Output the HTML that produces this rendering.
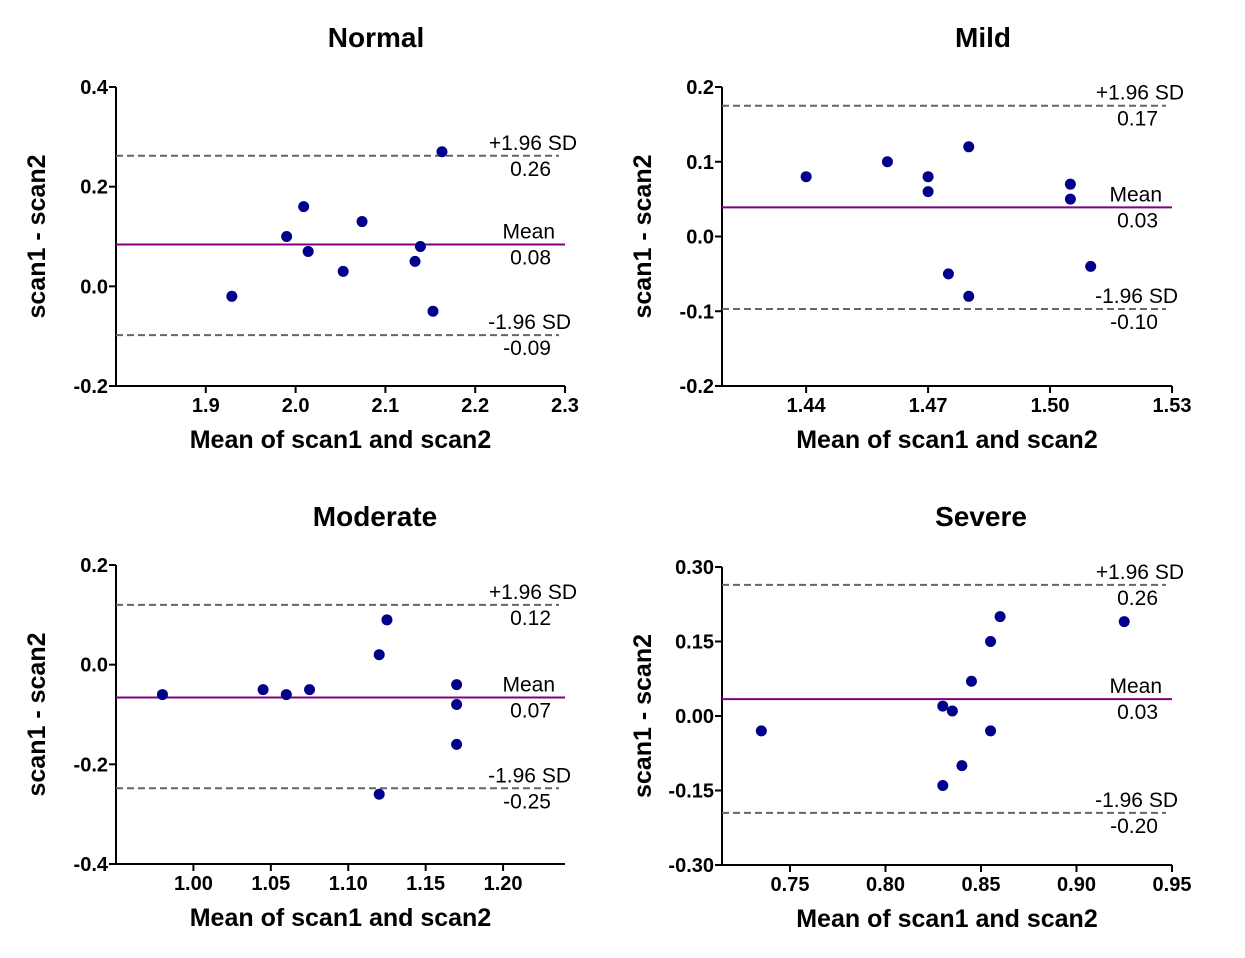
<!DOCTYPE html>
<html><head><meta charset="utf-8">
<style>
html,body{margin:0;padding:0;background:#fff;}
svg{display:block;font-family:"Liberation Sans",Arial,sans-serif;}
</style></head>
<body>
<svg id="c" width="1245" height="958" viewBox="0 0 1245 958" xmlns="http://www.w3.org/2000/svg"></svg>
<script>
const titles = ["Normal","Mild","Moderate","Severe"];
const normalX = [1.929,1.99,2.009,2.014,2.053,2.074,2.133,2.139,2.153,2.163];
const normalY = [-0.02,0.10,0.16,0.07,0.03,0.13,0.05,0.08,-0.05,0.27];
const mildX = [1.44,1.46,1.47,1.47,1.475,1.48,1.48,1.505,1.505,1.51];
const mildY = [0.08,0.10,0.08,0.06,-0.05,0.12,-0.08,0.07,0.05,-0.04];
const moderateX = [0.98,1.045,1.06,1.075,1.12,1.12,1.125,1.17,1.17,1.17];
const moderateY = [-0.06,-0.05,-0.06,-0.05,0.02,-0.26,0.09,-0.04,-0.08,-0.16];
const severeX = [0.735,0.83,0.835,0.83,0.84,0.845,0.855,0.855,0.86,0.925];
const severeY = [-0.03,0.02,0.01,-0.14,-0.10,0.07,0.15,-0.03,0.20,0.19];
const meanVals = [0.084,0.039,-0.066,0.034];
const upperVals = [0.262,0.175,0.12,0.264];
const lowerVals = [-0.098,-0.097,-0.248,-0.195];
const meanLabels = ["0.08","0.03","0.07","0.03"];
const upperLabels = ["0.26","0.17","0.12","0.26"];
const lowerLabels = ["-0.09","-0.10","-0.25","-0.20"];
const xTicks = [[1.9,2.0,2.1,2.2,2.3],[1.44,1.47,1.50,1.53],[1.00,1.05,1.10,1.15,1.20],[0.75,0.80,0.85,0.90,0.95]];
const xTickLabels = [["1.9","2.0","2.1","2.2","2.3"],["1.44","1.47","1.50","1.53"],["1.00","1.05","1.10","1.15","1.20"],["0.75","0.80","0.85","0.90","0.95"]];
const yTicks = [[-0.2,0,0.2,0.4],[-0.2,-0.1,0,0.1,0.2],[-0.4,-0.2,0,0.2],[-0.3,-0.15,0,0.15,0.3]];
const yTickLabels = [["-0.2","0.0","0.2","0.4"],["-0.2","-0.1","0.0","0.1","0.2"],["-0.4","-0.2","0.0","0.2"],["-0.30","-0.15","0.00","0.15","0.30"]];
const xDomains = [[1.8,2.3],[1.4193,1.53],[0.950,1.24],[0.7144,0.95]];
const yDomains = [[-0.2,0.4],[-0.2,0.2],[-0.4,0.2],[-0.3,0.3]];
const xsAll=[normalX,mildX,moderateX,severeX], ysAll=[normalY,mildY,moderateY,severeY];
const boxes=[{l:116,r:565,t:87,b:386,tx:376,ty:47},{l:722,r:1172,t:87,b:386,tx:983,ty:47},
             {l:116,r:565,t:565,b:864,tx:375,ty:526},{l:722,r:1172,t:567,b:865,tx:981,ty:526}];
const svg=document.getElementById('c');
const NS="http://www.w3.org/2000/svg";
function mk(tag,attrs,parent,text){const e=document.createElementNS(NS,tag);for(const k in attrs)e.setAttribute(k,attrs[k]);if(text!==undefined)e.textContent=text;parent.appendChild(e);return e;}
for(let p=0;p<4;p++){
  const B=boxes[p],xd=xDomains[p],yd=yDomains[p];
  const sx=v=>B.l+(v-xd[0])/(xd[1]-xd[0])*(B.r-B.l);
  const sy=v=>B.b-(v-yd[0])/(yd[1]-yd[0])*(B.b-B.t);
  const g=mk('g',{},svg);
  
  
  const t=mk('text',{x:B.tx,y:B.ty,'text-anchor':'middle','font-size':28,'font-weight':'bold',fill:'#000'},g,titles[p]);
  
  
  const ax=mk('path',{d:`M${B.l},${B.t}V${B.b}H${B.r}`,stroke:'#000','stroke-width':2,fill:'none'},g);
  
  
  yTicks[p].forEach((v,i)=>{const y=sy(v);
    mk('line',{x1:B.l-7,x2:B.l,y1:y,y2:y,stroke:'#000','stroke-width':2},g);
    const tl=mk('text',{x:B.l-8,y:y+7,'text-anchor':'end','font-size':20,'font-weight':'bold'},g,yTickLabels[p][i]);
    
    
  });
  xTicks[p].forEach((v,i)=>{const x=sx(v);
    mk('line',{x1:x,x2:x,y1:B.b,y2:B.b+7,stroke:'#000','stroke-width':2},g);
    const tl=mk('text',{x:x,y:B.b+26,'text-anchor':'middle','font-size':20,'font-weight':'bold'},g,xTickLabels[p][i]);
    
    
  });
  const xt=mk('text',{x:(B.l+B.r)/2,y:B.b+62,'text-anchor':'middle','font-size':25,'font-weight':'bold'},g,'Mean of scan1 and scan2');
  
  
  const cy=(B.t+B.b)/2;
  const yt=mk('text',{x:0,y:0,transform:`translate(${B.l-71},${cy}) rotate(-90)`,'text-anchor':'middle','font-size':25,'font-weight':'bold'},g,'scan1 - scan2');
  
  
  const yu=sy(upperVals[p]),ym=sy(meanVals[p]),yl=sy(lowerVals[p]);
  const lu=mk('line',{x1:B.l,x2:B.r-6,y1:yu,y2:yu,stroke:'#666','stroke-width':2,'stroke-dasharray':'7,4'},g);
  
  
  const lm=mk('line',{x1:B.l,x2:B.r,y1:ym,y2:ym,stroke:'#800080','stroke-width':2},g);
  
  
  const ll=mk('line',{x1:B.l,x2:B.r-6,y1:yl,y2:yl,stroke:'#666','stroke-width':2,'stroke-dasharray':'7,4'},g);
  
  
  const ann=[[yu,'+1.96 SD',upperLabels[p],12],[ym,'Mean',meanLabels[p],-10],[yl,'-1.96 SD',lowerLabels[p],6]];
  ann.forEach(a=>{
    const e1=mk('text',{x:B.r+a[3],y:a[0]-6,'text-anchor':'end','font-size':21},g,a[1]);
    
    
    const e2=mk('text',{x:B.r-14,y:a[0]+20,'text-anchor':'end','font-size':21},g,a[2]);
    
    
  });
  xsAll[p].forEach((xv,i)=>{
    const c=mk('circle',{cx:sx(xv),cy:sy(ysAll[p][i]),r:5.5,fill:'#00008B'},g);
    
    
  });
}
</script>
</body></html>
